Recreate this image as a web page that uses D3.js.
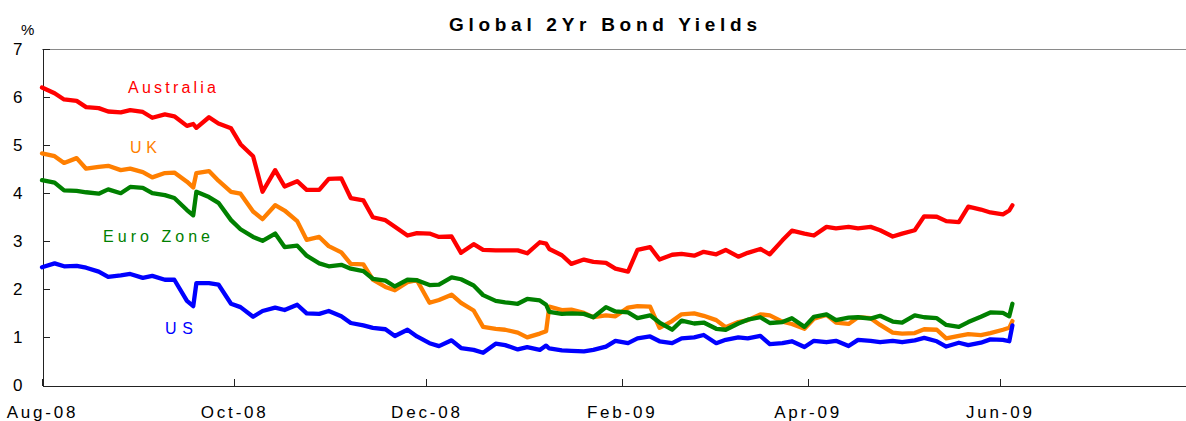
<!DOCTYPE html>
<html lang="en">
<head>
  <meta charset="UTF-8">
  <title>Global 2Yr Bond Yields</title>
  <script src="https://d3js.org/d3.v7.min.js"></script>
  <style>
    body {
      margin: 0;
      background: #fff;
    }
    svg {
      display: block;
      font-family: "Liberation Sans", Arial, sans-serif;
    }
    .axis path,
    .axis line {
      fill: none;
      stroke: #222;
      shape-rendering: crispEdges;
    }
    .axis text {
      font-size: 17px;
      fill: #000;
    }
    .x.axis text {
      letter-spacing: 2.8px;
    }
    .line {
      fill: none;
      stroke-width: 4.3px;
      stroke-linejoin: round;
      stroke-linecap: round;
    }
    .label {
      font-size: 16px;
    }
  </style>
</head>
<body>
  <svg width="1186" height="421"></svg>

  <script>
    // trading days sampled from the chart (Tue/Fri plus a few jump days)
    const dates = [
      "2008-08-01","2008-08-05","2008-08-08","2008-08-12","2008-08-15","2008-08-19","2008-08-22","2008-08-26","2008-08-29",
      "2008-09-02","2008-09-05","2008-09-09","2008-09-12","2008-09-16","2008-09-18","2008-09-19","2008-09-23","2008-09-26","2008-09-30",
      "2008-10-03","2008-10-07","2008-10-10","2008-10-14","2008-10-17","2008-10-21","2008-10-24","2008-10-28","2008-10-31",
      "2008-11-04","2008-11-07","2008-11-11","2008-11-14","2008-11-18","2008-11-21","2008-11-25","2008-11-28",
      "2008-12-02","2008-12-05","2008-12-09","2008-12-12","2008-12-16","2008-12-19","2008-12-23","2008-12-26","2008-12-30",
      "2009-01-02","2009-01-06","2009-01-08","2009-01-09","2009-01-13","2009-01-16","2009-01-20","2009-01-23","2009-01-27","2009-01-30",
      "2009-02-03","2009-02-06","2009-02-10","2009-02-13","2009-02-17","2009-02-20","2009-02-24","2009-02-27",
      "2009-03-03","2009-03-06","2009-03-10","2009-03-13","2009-03-17","2009-03-20","2009-03-24","2009-03-27","2009-03-31",
      "2009-04-03","2009-04-07","2009-04-10","2009-04-14","2009-04-17","2009-04-21","2009-04-24","2009-04-28",
      "2009-05-01","2009-05-05","2009-05-08","2009-05-12","2009-05-15","2009-05-19","2009-05-22","2009-05-26","2009-05-29",
      "2009-06-02","2009-06-04","2009-06-05"
    ];

    const australia = [
      6.20,6.08,5.95,5.92,5.79,5.77,5.70,5.68,5.73,
      5.69,5.57,5.64,5.60,5.40,5.44,5.36,5.58,5.45,5.35,
      5.02,4.77,4.03,4.48,4.14,4.25,4.07,4.07,4.30,
      4.31,3.90,3.85,3.50,3.44,3.30,3.12,3.17,
      3.16,3.09,3.10,2.76,2.94,2.82,2.81,2.81,2.81,
      2.75,2.98,2.95,2.84,2.71,2.53,2.62,2.57,2.55,2.43,
      2.37,2.82,2.88,2.62,2.72,2.74,2.70,2.78,
      2.73,2.82,2.68,2.76,2.84,2.73,3.02,3.22,3.16,
      3.12,3.30,3.27,3.30,3.27,3.30,3.23,3.10,
      3.16,3.23,3.52,3.51,3.42,3.40,3.72,3.66,3.60,
      3.56,3.64,3.75
    ];

    const uk = [
      4.83,4.77,4.63,4.73,4.51,4.55,4.57,4.48,4.51,
      4.44,4.33,4.42,4.43,4.24,4.12,4.42,4.46,4.26,4.03,
      3.99,3.62,3.46,3.75,3.64,3.42,3.03,3.09,2.90,
      2.77,2.53,2.52,2.20,2.05,1.98,2.15,2.19,
      1.72,1.78,1.89,1.72,1.56,1.22,1.18,1.16,1.10,
      1.00,1.08,1.13,1.64,1.57,1.58,1.51,1.42,1.46,1.44,
      1.62,1.65,1.64,1.20,1.34,1.48,1.50,1.45,
      1.36,1.21,1.32,1.36,1.48,1.46,1.33,1.28,1.18,
      1.39,1.47,1.31,1.28,1.42,1.40,1.26,1.10,
      1.08,1.09,1.17,1.16,0.98,1.03,1.07,1.05,1.09,
      1.16,1.20,1.34
    ];

    const euroZone = [
      4.27,4.22,4.06,4.05,4.02,3.99,4.08,4.00,4.13,
      4.11,4.00,3.96,3.90,3.65,3.54,4.03,3.92,3.80,3.44,
      3.25,3.09,3.01,3.16,2.88,2.91,2.70,2.54,2.48,
      2.51,2.43,2.38,2.22,2.18,2.06,2.20,2.19,
      2.09,2.10,2.25,2.21,2.08,1.88,1.76,1.73,1.70,
      1.80,1.77,1.68,1.53,1.49,1.50,1.49,1.42,1.63,1.54,
      1.52,1.40,1.46,1.31,1.16,1.35,1.29,1.31,
      1.18,1.16,1.29,1.37,1.42,1.30,1.32,1.40,1.22,
      1.43,1.48,1.36,1.41,1.42,1.39,1.45,1.33,
      1.31,1.46,1.42,1.40,1.26,1.22,1.32,1.43,1.52,
      1.51,1.44,1.70
    ];

    const us = [
      2.46,2.54,2.48,2.49,2.45,2.37,2.26,2.29,2.32,
      2.24,2.28,2.20,2.20,1.76,1.65,2.13,2.13,2.10,1.70,
      1.63,1.43,1.55,1.62,1.57,1.68,1.50,1.49,1.55,
      1.44,1.30,1.25,1.20,1.17,1.03,1.16,1.02,
      0.88,0.82,0.94,0.78,0.74,0.68,0.87,0.84,0.75,
      0.80,0.74,0.83,0.77,0.73,0.72,0.71,0.74,0.81,0.93,
      0.88,0.98,1.02,0.92,0.88,0.98,1.00,1.05,
      0.88,0.95,1.00,0.98,1.03,0.86,0.88,0.92,0.80,
      0.93,0.90,0.93,0.82,0.95,0.93,0.90,0.93,
      0.90,0.94,0.99,0.92,0.81,0.89,0.84,0.89,0.96,
      0.95,0.92,1.25
    ];

    const tickDates = ["2008-08-01","2008-10-01","2008-12-01","2009-02-01","2009-04-01","2009-06-01"];
    const yTicks = [0, 1, 2, 3, 4, 5, 6, 7];

    const series = [
      { name: "Australia", values: australia, color: "#ff0000", lx: 128, ly: 93, lw: 88 },
      { name: "UK", values: uk, color: "#ff7f00", lx: 130, ly: 153, lw: 27 },
      { name: "Euro Zone", values: euroZone, color: "#008000", lx: 103, ly: 242, lw: 107 },
      { name: "US", values: us, color: "#0000ff", lx: 165, ly: 334, lw: 28 }
    ];

    const svg = d3.select("svg");
    const parse = d3.timeParse("%Y-%m-%d");
    const days = dates.map(parse);

    const x = d3.scaleTime()
      .domain([parse("2008-08-01"), parse("2009-08-01")])
      .range([42, 1192]);

    const y = d3.scaleLinear()
      .domain([0, 7])
      .range([385.5, 49]);

    // plot area top border
    svg.append("line")
      .attr("x1", 42).attr("x2", 1186)
      .attr("y1", 49.5).attr("y2", 49.5)
      .attr("stroke", "#8a8a8a")
      .attr("stroke-width", 1);

    svg.append("g")
      .attr("class", "x axis")
      .attr("transform", "translate(0,385.5)")
      .call(d3.axisBottom(x)
        .tickValues(tickDates.map(parse))
        .tickFormat(d3.timeFormat("%b-%y"))
        .tickSizeInner(-7)
        .tickSizeOuter(0)
        .tickPadding(20));

    svg.append("g")
      .attr("class", "y axis")
      .attr("transform", "translate(42.5,0)")
      .call(d3.axisLeft(y)
        .tickValues(yTicks)
        .tickFormat(d3.format("d"))
        .tickSizeInner(-7)
        .tickSizeOuter(0)
        .tickPadding(20));

    const line = d3.line()
      .x((d, i) => x(days[i]))
      .y(d => y(d));

    svg.selectAll(".line")
      .data(series)
      .enter().append("path")
      .attr("class", "line")
      .attr("stroke", d => d.color)
      .attr("d", d => line(d.values));

    svg.selectAll(".label")
      .data(series)
      .enter().append("text")
      .attr("class", "label")
      .attr("x", d => d.lx)
      .attr("y", d => d.ly)
      .attr("textLength", d => d.lw)
      .attr("lengthAdjust", "spacing")
      .attr("fill", d => d.color)
      .text(d => d.name);

    svg.append("text")
      .attr("x", 449)
      .attr("y", 31)
      .attr("textLength", 308)
      .attr("lengthAdjust", "spacing")
      .style("font-size", "19px")
      .style("font-weight", "bold")
      .text("Global 2Yr Bond Yields");

    svg.append("text")
      .attr("x", 21)
      .attr("y", 35)
      .style("font-size", "15px")
      .text("%");
  </script>
</body>
</html>
